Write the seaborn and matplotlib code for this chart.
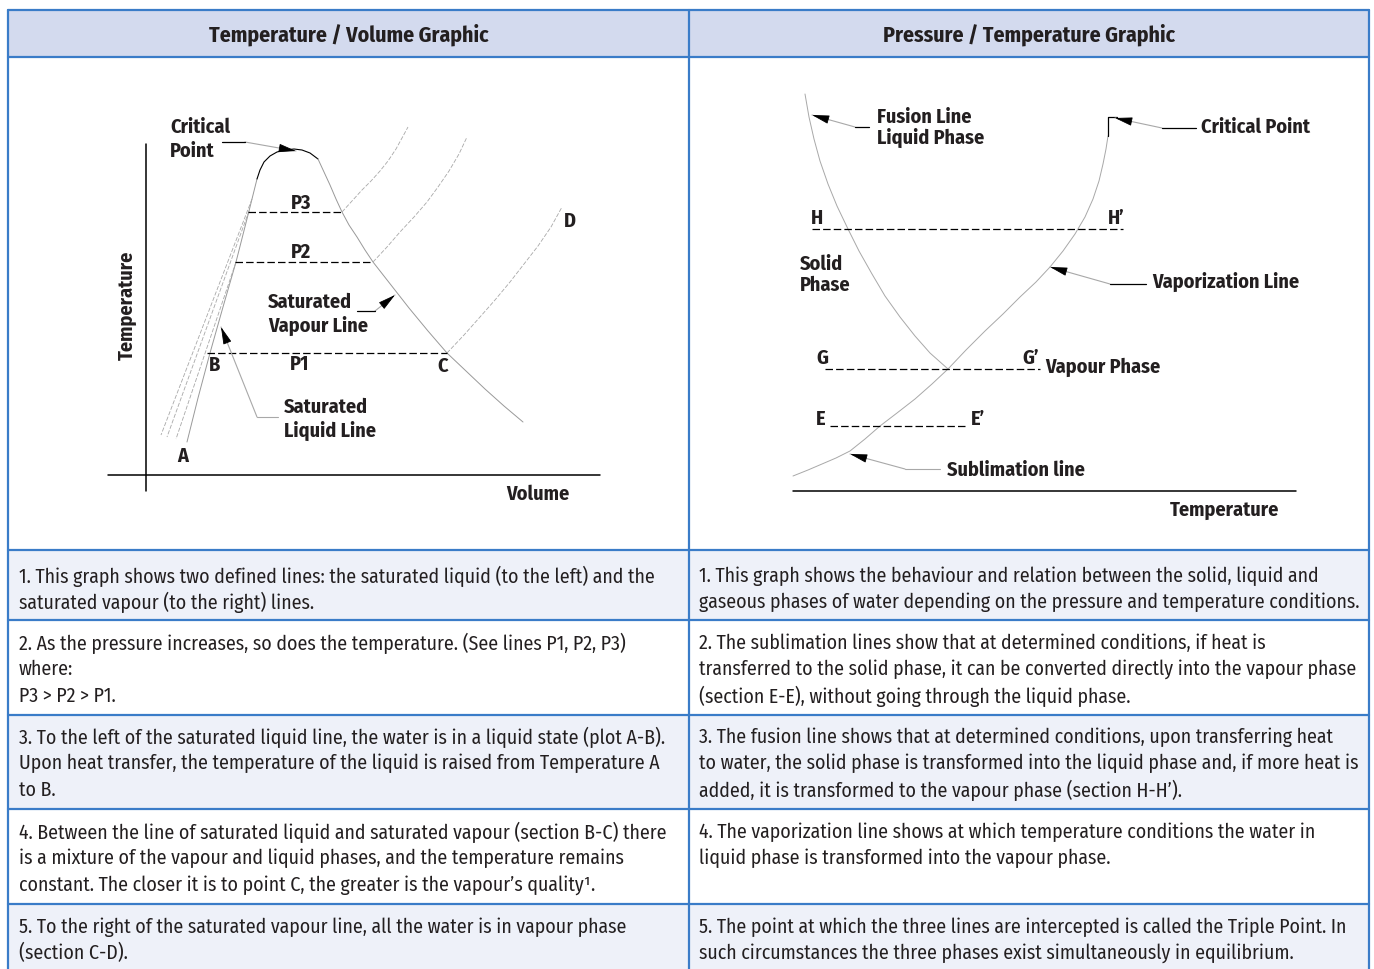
import seaborn as sns
import matplotlib.pyplot as plt
import numpy as np
import pandas as pd

# ---- table layout (pixel grid of the page) ----
col_edges = [8, 689, 1369]
row_edges = [11, 58, 551, 621, 716, 810, 905, 975]
row_fill = ['#d3daee', '#ffffff', '#eef1f9', '#ffffff', '#eef1f9', '#ffffff', '#eef1f9']
headers = ['Temperature / Volume Graphic', 'Pressure / Temperature Graphic']

left_notes = [
    ['1. This graph shows two defined lines: the saturated liquid (to the left) and the',
     'saturated vapour (to the right) lines.'],
    ['2. As the pressure increases, so does the temperature. (See lines P1, P2, P3)',
     'where:', 'P3 > P2 > P1.'],
    ['3. To the left of the saturated liquid line, the water is in a liquid state (plot A-B).',
     'Upon heat transfer, the temperature of the liquid is raised from Temperature A',
     'to B.'],
    ['4. Between the line of saturated liquid and saturated vapour (section B-C) there',
     'is a mixture of the vapour and liquid phases, and the temperature remains',
     'constant. The closer it is to point C, the greater is the vapour\u2019s quality\u00b9.'],
    ['5. To the right of the saturated vapour line, all the water is in vapour phase',
     '(section C-D).'],
]
right_notes = [
    ['1. This graph shows the behaviour and relation between the solid, liquid and',
     'gaseous phases of water depending on the pressure and temperature conditions.'],
    ['2. The sublimation lines show that at determined conditions, if heat is',
     'transferred to the solid phase, it can be converted directly into the vapour phase',
     '(section E-E), without going through the liquid phase.'],
    ['3. The fusion line shows that at determined conditions, upon transferring heat',
     'to water, the solid phase is transformed into the liquid phase and, if more heat is',
     'added, it is transformed to the vapour phase (section H-H\u2019).'],
    ['4. The vaporization line shows at which temperature conditions the water in',
     'liquid phase is transformed into the vapour phase.'],
    ['5. The point at which the three lines are intercepted is called the Triple Point. In',
     'such circumstances the three phases exist simultaneously in equilibrium.'],
]
note_first_line = [576, 643, 737, 832, 927]

# ---- temperature / volume diagram ----
sat_liq_x = [187, 198, 210, 223, 236, 249, 257]
sat_liq_y = [443, 399, 354, 308, 263, 212, 180]
dome_x = [257, 260, 264, 270, 277, 285, 294, 302, 310, 318]
dome_y = [180, 171, 163, 157, 153, 151, 150, 151, 154, 160]
sat_vap_x = [318, 324, 330, 336, 342, 349, 357, 365, 373, 391, 409, 428, 447, 466, 485, 504, 523]
sat_vap_y = [160, 173, 186, 200, 213, 226, 238, 251, 263, 286, 309, 332, 354, 372, 390, 407, 423]
iso_p3_x = [342, 352, 362, 371, 380, 388, 396, 402, 408]
iso_p3_y = [213, 202, 191, 182, 172, 162, 150, 139, 128]
iso_p2_x = [373, 387, 400, 414, 427, 438, 449, 459, 467]
iso_p2_y = [263, 248, 233, 218, 203, 188, 172, 155, 138]
iso_p1_x = [447, 464, 480, 495, 510, 524, 538, 551, 562]
iso_p1_y = [354, 336, 318, 301, 283, 265, 247, 228, 208]
liq_dash = [((252, 200), (161, 436)), ((249, 212), (167, 438)), ((236, 263), (176, 440))]
p_names = ['P3', 'P2', 'P1']
p_left = [248, 235, 207]
p_right = [342, 373, 447]
p_level = [213, 263, 354]

# ---- pressure / temperature diagram ----
fusion_x = [805, 809, 814, 820, 828, 837, 848, 859, 872, 885, 900, 915, 930, 948]
fusion_y = [95, 118, 140, 162, 185, 207, 230, 252, 275, 297, 318, 337, 354, 370]
vap_x = [793, 808, 822, 836, 850, 865, 880, 897, 915, 932, 948, 966, 985, 1003, 1020, 1036,
         1050, 1063, 1075, 1085, 1093, 1099, 1103, 1106, 1108]
vap_y = [477, 471, 465, 459, 452, 440, 427, 414, 400, 385, 370, 351, 332, 315, 298, 283,
         268, 252, 235, 218, 200, 182, 165, 150, 137]
sec_names = [('H', 'H\u2019'), ('G', 'G\u2019'), ('E', 'E\u2019')]
sec_left = [812, 825, 830]
sec_right = [1123, 1040, 968]
sec_level = [230, 370, 427]

sns.set_theme(style='white')
plt.rcParams['font.family'] = ['Fira Sans Condensed', 'DejaVu Sans']
plt.rcParams['font.stretch'] = 'condensed'

fig = plt.figure(figsize=(13.74, 9.70), dpi=100)
ax = fig.add_axes([0, 0, 1, 1])
ax.set_xlim(0, 1374)
ax.set_ylim(970, 0)
ax.axis('off')
renderer = fig.canvas.get_renderer()


def fit_size(sample, width, weight):
    # font size that gives the sample string the width it has in the reference
    t = ax.text(0, 0, sample, fontsize=14, fontweight=weight)
    w = t.get_window_extent(renderer).width
    t.remove()
    return 14 * width / w


body_fs = fit_size(left_notes[0][0], 638, 'normal')
head_fs = fit_size(headers[0], 281, 'bold')
lab_fs = fit_size('Vaporization Line', 147, 'bold')

border = '#3a7cc8'
ink = '#231f20'
grey = '#a8a8a8'

# table cells
for i in range(len(row_edges) - 1):
    ax.axhspan(row_edges[i], row_edges[i + 1], xmin=col_edges[0] / 1374, xmax=col_edges[2] / 1374,
               color=row_fill[i], lw=0, zorder=0)
for y in row_edges[:-1]:
    ax.plot([col_edges[0], col_edges[2]], [y, y], color=border, lw=1.6, zorder=1)
for x in col_edges:
    ax.plot([x, x], [row_edges[0], 970], color=border, lw=1.6, zorder=1)

for i, h in enumerate(headers):
    ax.text((col_edges[i] + col_edges[i + 1]) / 2, 35, h, ha='center', va='center',
            fontsize=head_fs, fontweight='bold', color=ink)

for notes, x0 in [(left_notes, 19), (right_notes, 699)]:
    for lines, y0 in zip(notes, note_first_line):
        for k, line in enumerate(lines):
            ax.text(x0, y0 + 26.5 * k, line, ha='left', va='center', fontsize=body_fs, color=ink)


def curve(xs, ys, **kw):
    d = pd.DataFrame({'x': xs, 'y': ys})
    sns.lineplot(data=d, x='x', y='y', sort=False, estimator=None, ax=ax, **kw)


def head(tip, frm):
    tip = np.array(tip, float)
    v = tip - np.array(frm, float)
    v /= np.hypot(*v)
    ax.annotate('', xy=tip, xytext=tip - v * 14,
                arrowprops=dict(arrowstyle='-|>,head_length=0.9,head_width=0.22', color='black',
                                lw=0.6, shrinkA=0, shrinkB=0))


def leader(pts, tip, dark_from=None):
    ax.plot([p[0] for p in pts], [p[1] for p in pts], color=grey, lw=0.8)
    if dark_from is not None:
        ax.plot([p[0] for p in dark_from], [p[1] for p in dark_from], color='black', lw=0.9)
    head(tip, pts[0])


lab = dict(fontsize=lab_fs, fontweight='bold', color=ink)

# --- left diagram ---
ax.plot([146, 146], [145, 492], color='black', lw=1.1)
ax.plot([108, 600], [476, 476], color='black', lw=1.1)
ax.text(127, 305, 'Temperature', rotation=90, ha='center', va='center', **lab)
ax.text(538, 494, 'Volume', ha='center', va='center', **lab)

curve(sat_liq_x, sat_liq_y, color='#999999', lw=0.7)
curve(dome_x, dome_y, color='black', lw=0.8)
curve(sat_vap_x, sat_vap_y, color='#999999', lw=0.7)
for xs, ys in [(iso_p3_x, iso_p3_y), (iso_p2_x, iso_p2_y), (iso_p1_x, iso_p1_y)]:
    curve(xs, ys, color=grey, lw=0.6, linestyle=(0, (5, 2)))
for (a, b) in liq_dash:
    ax.plot([a[0], b[0]], [a[1], b[1]], color=grey, lw=0.6, linestyle=(0, (5, 2)))
for n, xl, xr, yv in zip(p_names, p_left, p_right, p_level):
    ax.plot([xl, xr], [yv, yv], color='black', lw=0.9, linestyle=(0, (6, 2.5)))
ax.text(301, 203, 'P3', ha='center', va='center', **lab)
ax.text(301, 252, 'P2', ha='center', va='center', **lab)
ax.text(300, 364, 'P1', ha='center', va='center', **lab)
ax.text(214, 365, 'B', ha='center', va='center', **lab)
ax.text(443, 366, 'C', ha='center', va='center', **lab)
ax.text(183, 456, 'A', ha='center', va='center', **lab)
ax.text(570, 221, 'D', ha='center', va='center', **lab)

ax.text(170, 127, 'Critical', ha='left', va='center', **lab)
ax.text(170, 151, 'Point', ha='left', va='center', **lab)
leader([(245, 143), (296, 152)], (296, 152), dark_from=[(222, 143), (245, 143)])
ax.text(268, 302, 'Saturated', ha='left', va='center', **lab)
ax.text(268, 326, 'Vapour Line', ha='left', va='center', **lab)
leader([(375, 312), (395, 296)], (395, 296), dark_from=[(357, 312), (375, 312)])
ax.text(284, 407, 'Saturated', ha='left', va='center', **lab)
ax.text(284, 431, 'Liquid Line', ha='left', va='center', **lab)
ax.plot([257, 278], [418, 418], color=grey, lw=0.8)
leader([(257, 418), (221, 328)], (221, 328))

# --- right diagram ---
ax.plot([793, 1296], [492, 492], color='black', lw=1.1)
ax.text(1225, 510, 'Temperature', ha='center', va='center', **lab)
curve(fusion_x, fusion_y, color=grey, lw=0.7)
curve(vap_x, vap_y, color=grey, lw=0.7)
ax.plot([1108, 1108, 1117], [137, 118, 118], color='black', lw=0.9)
for (n1, n2), xl, xr, yv in zip(sec_names, sec_left, sec_right, sec_level):
    ax.plot([xl, xr], [yv, yv], color='black', lw=0.9, linestyle=(0, (6, 2.5)))
ax.text(817, 218, 'H', ha='center', va='center', **lab)
ax.text(1116, 218, 'H\u2019', ha='center', va='center', **lab)
ax.text(822, 358, 'G', ha='center', va='center', **lab)
ax.text(1031, 358, 'G\u2019', ha='center', va='center', **lab)
ax.text(1045, 367, 'Vapour Phase', ha='left', va='center', **lab)
ax.text(821, 419, 'E', ha='center', va='center', **lab)
ax.text(978, 419, 'E\u2019', ha='center', va='center', **lab)
ax.text(800, 264, 'Solid', ha='left', va='center', **lab)
ax.text(800, 285, 'Phase', ha='left', va='center', **lab)

ax.text(877, 117, 'Fusion Line', ha='left', va='center', **lab)
ax.text(877, 138, 'Liquid Phase', ha='left', va='center', **lab)
leader([(855, 128), (812, 116)], (812, 116), dark_from=[(855, 128), (869, 128)])
ax.text(1201, 127, 'Critical Point', ha='left', va='center', **lab)
leader([(1162, 129), (1115, 119)], (1115, 119), dark_from=[(1162, 129), (1196, 129)])
ax.text(1152, 282, 'Vaporization Line', ha='left', va='center', **lab)
leader([(1110, 285), (1050, 268)], (1050, 268), dark_from=[(1110, 285), (1146, 285)])
ax.text(947, 470, 'Sublimation line', ha='left', va='center', **lab)
ax.plot([905, 940], [470, 470], color=grey, lw=0.8)
leader([(905, 470), (850, 455)], (850, 455))

fig.savefig('out.png', dpi=100)
